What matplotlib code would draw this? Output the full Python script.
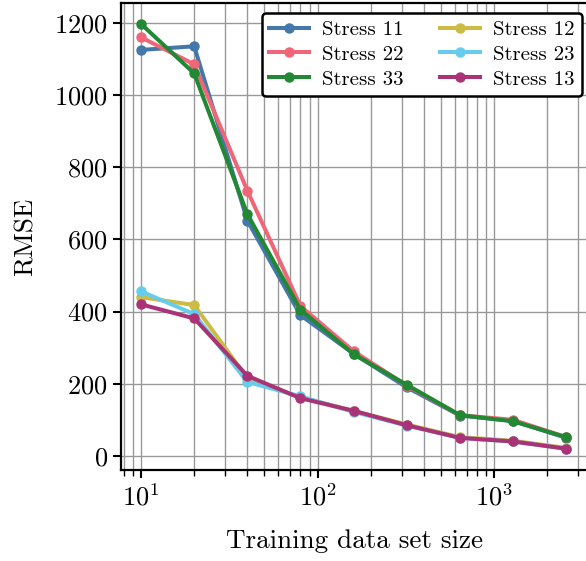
import matplotlib
matplotlib.use("Agg")
import matplotlib.pyplot as plt

# =====================================================
#  Data
# =====================================================
sizes = [10, 20, 40, 80, 160, 320, 640, 1280, 2560]

stress_11 = [1125, 1135, 652, 390, 283, 190, 112, 97, 50]
stress_22 = [1160, 1085, 735, 415, 290, 195, 113, 100, 52]
stress_33 = [1197, 1060, 670, 405, 282, 197, 113, 96, 52]
stress_12 = [440, 418, 215, 162, 125, 87, 52, 42, 22]
stress_23 = [456, 393, 205, 165, 122, 84, 50, 40, 20]
stress_13 = [420, 381, 222, 160, 125, 85, 50, 40, 20]

labels = ["Stress 11", "Stress 22", "Stress 33", "Stress 12", "Stress 23", "Stress 13"]
colors = ["#4477AA", "#EE6677", "#228833", "#CCBB44", "#66CCEE", "#AA3377"]

plt.rcParams["font.family"] = "serif"
plt.rcParams["font.serif"] = ["cmr10", "DejaVu Serif"]
plt.rcParams["mathtext.fontset"] = "cm"
plt.rcParams["axes.formatter.use_mathtext"] = True
plt.rcParams["axes.unicode_minus"] = False

# =====================================================
#  Plot
# =====================================================
fig = plt.figure(figsize=(5.86, 5.61), dpi=100)
ax = fig.add_axes([121/586, 1-470/561, 467/586, 467/561])

series = [stress_11, stress_22, stress_33, stress_12, stress_23, stress_13]
for vals, lab, col in zip(series, labels, colors):
    ax.plot(sizes, vals, "-o", color=col, label=lab, lw=2.9, ms=6.5, zorder=3)

ax.set_xscale("log")
ax.set_xlim(7.7, 3400)
ax.set_ylim(-39, 1255)
ax.set_yticks([0, 200, 400, 600, 800, 1000, 1200])

ax.grid(True, which="major", axis="both", color="#999999", lw=1.0)
ax.grid(True, which="minor", axis="x", color="#999999", lw=1.0)
ax.set_axisbelow(True)

for s in ["left", "bottom", "top", "right"]:
    ax.spines[s].set_linewidth(1.6)
    ax.spines[s].set_color("black")

ax.tick_params(axis="both", which="major", labelsize=19, length=6, width=1.5, direction="out")
ax.tick_params(axis="x", which="minor", length=4, width=1.0, direction="out")

ax.set_xlabel("Training data set size", fontsize=19.5, labelpad=14)
ax.set_ylabel("RMSE", fontsize=19.5, labelpad=12)

leg = ax.legend(ncol=2, fontsize=15, loc="upper right",
                bbox_to_anchor=(582/586, 1-13/561), bbox_transform=fig.transFigure,
                borderaxespad=0, fancybox=True, framealpha=1,
                handlelength=1.9, columnspacing=1.75, labelspacing=0.3,
                handletextpad=0.65, borderpad=0.35)
leg.get_frame().set_edgecolor("black")
leg.get_frame().set_linewidth(1.8)

plt.savefig("out.png", dpi=100)
plt.close()
